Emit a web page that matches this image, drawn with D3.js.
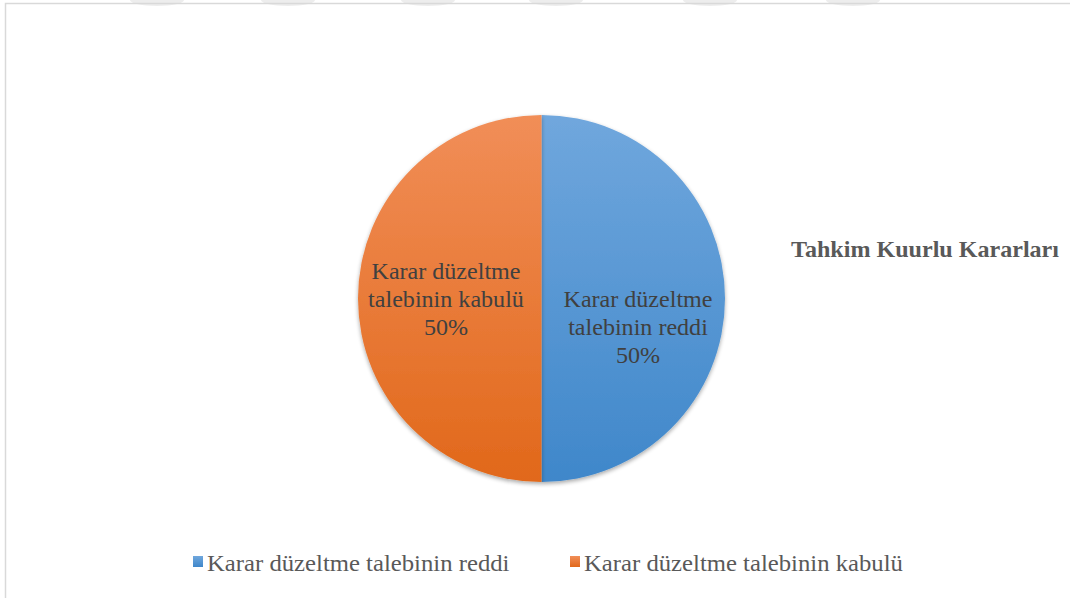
<!DOCTYPE html>
<html>
<head>
<meta charset="utf-8">
<script src="https://cdn.jsdelivr.net/npm/d3@7"></script>
<style>
  body { margin: 0; background: #fff; }
  svg { display: block; }
</style>
</head>
<body>
<div id="chart-area"></div>
<script>
// Data
var categories = ["Karar düzeltme talebinin reddi", "Karar düzeltme talebinin kabulü"];
var values = [50, 50];
var labelLines = [
    ["Karar düzeltme", "talebinin reddi"],
    ["Karar düzeltme", "talebinin kabulü"]
];
var title = "Tahkim Kuurlu Kararları";

var width = 1070, height = 598;
var cx = 541.5, cy = 298.5, radius = 183.5;
var serif = "'Liberation Serif', 'Times New Roman', serif";
var stretch = 1.07;

var svg = d3.select("#chart-area")
    .append("svg")
        .attr("width", width)
        .attr("height", height);

var defs = svg.append("defs");

// Gradients like the office chart
var gradColors = [["#70a7dd", "#3f87ca"], ["#f18e58", "#e1681a"]];
gradColors.forEach(function(c, i) {
    var g = defs.append("linearGradient")
        .attr("id", "grad" + i)
        .attr("gradientUnits", "userSpaceOnUse")
        .attr("x1", 0).attr("y1", -radius).attr("x2", 0).attr("y2", radius);
    g.append("stop").attr("offset", "0%").attr("stop-color", c[0]);
    g.append("stop").attr("offset", "100%").attr("stop-color", c[1]);

    var lg = defs.append("linearGradient")
        .attr("id", "lgrad" + i)
        .attr("x1", 0).attr("y1", 0).attr("x2", 0).attr("y2", 1);
    lg.append("stop").attr("offset", "0%").attr("stop-color", c[0]);
    lg.append("stop").attr("offset", "100%").attr("stop-color", c[1]);
});

var shadow = defs.append("filter").attr("id", "shadow")
    .attr("x", "-10%").attr("y", "-10%").attr("width", "120%").attr("height", "120%");
shadow.append("feGaussianBlur").attr("in", "SourceAlpha").attr("stdDeviation", 2);
shadow.append("feOffset").attr("dx", 0).attr("dy", 2).attr("result", "off");
shadow.append("feComponentTransfer").append("feFuncA").attr("type", "linear").attr("slope", 0.35);
var merge = shadow.append("feMerge");
merge.append("feMergeNode");
merge.append("feMergeNode").attr("in", "SourceGraphic");

// Faint watermark bits along the top
var marks = [157, 288, 428, 556, 710, 853];
svg.selectAll(".wm")
    .data(marks)
    .enter()
    .append("ellipse")
        .attr("cx", function(d) { return d; })
        .attr("cy", 0)
        .attr("rx", 27)
        .attr("ry", 6)
        .attr("fill", "#ededed");

// Chart border
svg.append("path")
    .attr("d", "M5.5," + height + "V3.5H" + width)
    .attr("fill", "none")
    .attr("stroke", "#d9d9d9")
    .attr("stroke-width", 1.5);

var pie = d3.pie()
    .sort(null)
    .value(function(d) { return d; });

var arc = d3.arc()
    .innerRadius(0)
    .outerRadius(radius);

var g = svg.append("g")
    .attr("transform", "translate(" + cx + "," + cy + ")");

var arcs = pie(values);

g.selectAll("path.slice")
    .data(arcs)
    .enter()
    .append("path")
        .attr("class", "slice")
        .attr("d", arc)
        .attr("fill", function(d, i) { return "url(#grad" + i + ")"; })
        .attr("filter", "url(#shadow)");

// Data labels
var labelPos = [[96.5, 36.5], [-95.5, 8.5]];
var labels = g.selectAll("text.lbl")
    .data(arcs)
    .enter()
    .append("text")
        .attr("class", "lbl")
        .attr("text-anchor", "middle")
        .attr("font-family", serif)
        .attr("font-size", "22.5px")
        .attr("fill", "#404040")
        .attr("transform", function(d, i) {
            return "translate(" + labelPos[i][0] + "," + labelPos[i][1] + ") scale(" + stretch + ",1)";
        });

labels.each(function(d, i) {
    var t = d3.select(this);
    var lines = labelLines[i].concat([Math.round(values[i] / d3.sum(values) * 100) + "%"]);
    lines.forEach(function(l, j) {
        t.append("tspan")
            .attr("x", 0)
            .attr("y", (j - 1) * 28)
            .text(l);
    });
});

// Title
svg.append("text")
    .attr("text-anchor", "middle")
    .attr("transform", "translate(925,257) scale(" + stretch + ",1)")
    .attr("font-family", serif)
    .attr("font-weight", "bold")
    .attr("font-size", "22.5px")
    .attr("fill", "#595959")
    .text(title);

// Legend
var legendX = [193, 570];
var legend = svg.selectAll(".legend")
    .data(categories)
    .enter()
    .append("g")
        .attr("class", "legend")
        .attr("transform", function(d, i) { return "translate(" + legendX[i] + ",556)"; });

legend.append("rect")
    .attr("width", 10)
    .attr("height", 11)
    .attr("fill", function(d, i) { return "url(#lgrad" + i + ")"; });

legend.append("text")
    .attr("transform", "translate(14,15) scale(" + stretch + ",1)")
    .attr("font-family", serif)
    .attr("font-size", "23.1px")
    .attr("fill", "#595959")
    .text(function(d) { return d; });
</script>
</body>
</html>
